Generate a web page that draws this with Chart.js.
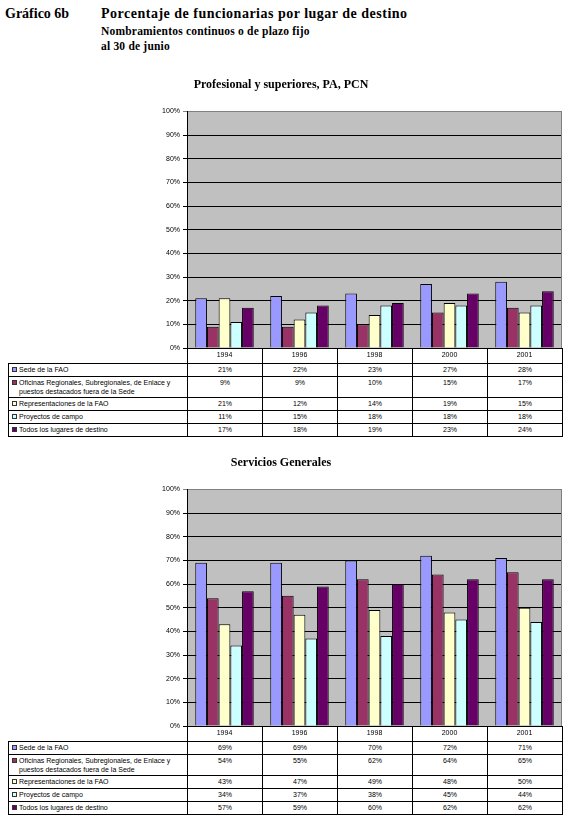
<!DOCTYPE html>
<html>
<head>
<meta charset="utf-8">
<title>Gráfico 6b</title>
<script src="https://cdn.jsdelivr.net/npm/chart.js@4.4.0/dist/chart.umd.min.js"></script>
<style>
  body { margin: 0; background: #fff; width: 570px; height: 824px; position: relative; overflow: hidden; }
  .hd { position: absolute; font-family: "Liberation Serif", "Times New Roman", serif; font-weight: bold; color: #000; white-space: nowrap; }
  .box { position: absolute; left: 0; width: 570px; height: 293px; }
  table.dt { position: absolute; left: 8px; width: 554px; border-collapse: collapse; table-layout: fixed;
             font-family: "Liberation Sans", Arial, sans-serif; font-size: 7px; color: #000; }
  table.dt td { border: 1px solid #000; padding: 1px 0 0 0; vertical-align: top; line-height: 9px; overflow: hidden; box-sizing: border-box; }
  table.dt td.lab { padding-left: 10px; text-indent: -7px; white-space: pre-line; }
  table.dt td.val { text-align: center; }
  .mk { display: inline-block; width: 3px; height: 3px; border: 1px solid #333; margin-right: 2px; text-indent: 0; vertical-align: 0px; }
</style>
</head>
<body>

<div class="hd" style="left:5px; top:6px; font-size:14px;">Gráfico 6b</div>
<div class="hd" style="left:101px; top:6px; font-size:14px; letter-spacing:0.5px;">Porcentaje de funcionarias por lugar de destino</div>
<div class="hd" style="left:101px; top:25px; font-size:11.5px; letter-spacing:0.2px;">Nombramientos continuos o de plazo fijo</div>
<div class="hd" style="left:101px; top:40px; font-size:11.5px; letter-spacing:0.2px;">al 30 de junio</div>

<div class="box" style="top:70px;"><canvas id="chart1" width="570" height="293"></canvas></div>
<table class="dt" id="table1" style="top:363px;"></table>

<div class="box" style="top:448px;"><canvas id="chart2" width="570" height="293"></canvas></div>
<table class="dt" id="table2" style="top:741px;"></table>

<script>
// categories and series
const years = ["1994", "1996", "1998", "2000", "2001"];
const seriesNames = [
  "Sede de la FAO",
  "Oficinas Regionales, Subregionales, de Enlace y\npuestos destacados fuera de la Sede",
  "Representaciones de la FAO",
  "Proyectos de campo",
  "Todos los lugares de destino"
];
const seriesColors = ["#9999ff", "#993366", "#ffffcc", "#ccffff", "#660066"];
const yTicks = [0, 10, 20, 30, 40, 50, 60, 70, 80, 90, 100];

// Profesional y superiores, PA, PCN
const profSede = [21, 22, 23, 27, 28];
const profOficinas = [9, 9, 10, 15, 17];
const profRepres = [21, 12, 14, 19, 15];
const profProyectos = [11, 15, 18, 18, 18];
const profTodos = [17, 18, 19, 23, 24];

// Servicios Generales
const sgSede = [69, 69, 70, 72, 71];
const sgOficinas = [54, 55, 62, 64, 65];
const sgRepres = [43, 47, 49, 48, 50];
const sgProyectos = [34, 37, 38, 45, 44];
const sgTodos = [57, 59, 60, 62, 62];

Chart.defaults.font.family = '"Liberation Sans", Arial, sans-serif';
Chart.defaults.color = '#000';

// grey plot area + grey right edge, like the old spreadsheet charts
const plotArea = {
  id: 'plotArea',
  beforeDraw(chart) {
    const { ctx, chartArea: a } = chart;
    ctx.save();
    ctx.fillStyle = '#c0c0c0';
    ctx.fillRect(a.left, a.top, a.right - a.left, a.bottom - a.top);
    ctx.restore();
  },
  afterDraw(chart) {
    const { ctx, chartArea: a } = chart;
    ctx.save();
    ctx.strokeStyle = '#808080';
    ctx.lineWidth = 1;
    ctx.beginPath();
    ctx.moveTo(Math.round(a.right) - 0.5, a.top);
    ctx.lineTo(Math.round(a.right) - 0.5, a.bottom);
    ctx.stroke();
    ctx.restore();
  }
};

function makeChart(id, title, values) {
  const ctx = document.getElementById(id).getContext('2d');
  return new Chart(ctx, {
    type: 'bar',
    data: {
      labels: years,
      datasets: values.map((v, i) => ({
        label: seriesNames[i].replace('\n', ' '),
        data: v,
        backgroundColor: seriesColors[i],
        borderColor: '#000',
        borderWidth: 1,
        categoryPercentage: 0.78,
        barPercentage: 1.0
      }))
    },
    options: {
      responsive: false,
      animation: false,
      layout: { padding: { left: 0, right: 8, top: 0, bottom: 0 } },
      plugins: {
        legend: { display: false },
        tooltip: { enabled: false },
        title: {
          display: true,
          text: title,
          color: '#000',
          font: { family: '"Liberation Serif", "Times New Roman", serif', size: 12, weight: 'bold' },
          padding: { top: 8, bottom: 19 }
        }
      },
      scales: {
        x: {
          grid: { offset: true, drawOnChartArea: false, color: '#000', tickLength: 15 },
          border: { color: '#000' },
          ticks: { font: { size: 7 }, color: '#000', padding: -12, maxRotation: 0, autoSkip: false },
          afterFit: s => { s.height = 15; }
        },
        y: {
          min: yTicks[0],
          max: yTicks[yTicks.length - 1],
          afterBuildTicks: s => { s.ticks = yTicks.map(v => ({ value: v })); },
          grid: {
            color: c => (c.tick && c.tick.value === 100 ? '#808080' : '#000'),
            tickLength: 4
          },
          border: { color: '#000' },
          ticks: { font: { size: 7 }, color: '#000', padding: 3, callback: v => v + '%' },
          afterFit: s => { s.width = 187; }
        }
      }
    },
    plugins: [plotArea]
  });
}

const rowHeights = [13, 21, 13, 13, 13];

function fillTable(id, values) {
  const table = document.getElementById(id);
  const colgroup = document.createElement('colgroup');
  colgroup.innerHTML = '<col style="width:179px">' + years.map(() => '<col style="width:75px">').join('');
  table.appendChild(colgroup);
  values.forEach((v, i) => {
    const tr = document.createElement('tr');
    tr.style.height = rowHeights[i] + 'px';
    const lab = document.createElement('td');
    lab.className = 'lab';
    const mk = document.createElement('span');
    mk.className = 'mk';
    mk.style.background = seriesColors[i];
    lab.appendChild(mk);
    lab.appendChild(document.createTextNode(seriesNames[i]));
    tr.appendChild(lab);
    v.forEach(x => {
      const td = document.createElement('td');
      td.className = 'val';
      td.textContent = x + '%';
      tr.appendChild(td);
    });
    table.appendChild(tr);
  });
}

const profData = [profSede, profOficinas, profRepres, profProyectos, profTodos];
const sgData = [sgSede, sgOficinas, sgRepres, sgProyectos, sgTodos];

makeChart('chart1', 'Profesional y superiores, PA, PCN', profData);
makeChart('chart2', 'Servicios Generales', sgData);
fillTable('table1', profData);
fillTable('table2', sgData);
</script>
</body>
</html>
